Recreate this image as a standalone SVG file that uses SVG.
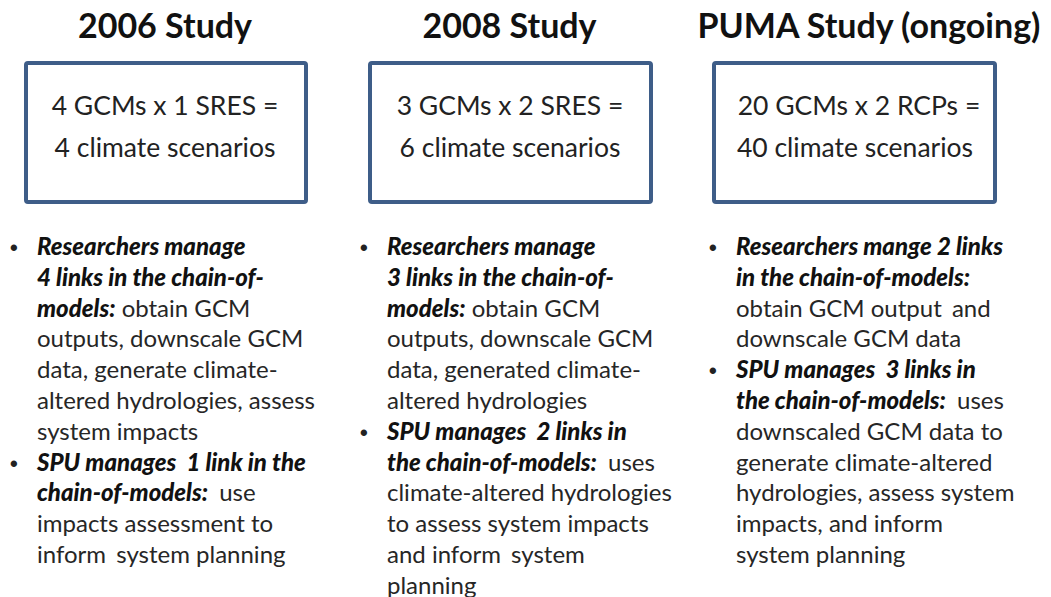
<svg xmlns="http://www.w3.org/2000/svg" width="1051" height="597" viewBox="0 0 1051 597">
  <style>
    .title { font-family: Lato, "Liberation Sans", sans-serif; font-weight: bold; font-size: 34px; fill: #111; text-anchor: middle; }
    .box { fill: #ffffff; stroke: #3e5d88; stroke-width: 4; }
    .boxtxt { font-family: Lato, "Liberation Sans", sans-serif; font-size: 26.5px; fill: #222; text-anchor: middle; }
    .body { font-family: Lato, "Liberation Sans", sans-serif; font-size: 24px; fill: #262626; }
    .bi { font-weight: 900; font-style: italic; fill: #111; }
    .dot { font-family: "Liberation Sans", sans-serif; font-size: 22px; font-weight: bold; fill: #222; }
  </style>
  <rect width="1051" height="597" fill="#ffffff"/>

  <!-- 2006 study -->
  <g id="study-2006">
    <text class="title" x="165" y="38">2006 Study</text>
    <rect class="box" x="26" y="63" width="280" height="139" rx="2"/>
    <text class="boxtxt" x="165" y="115">4 GCMs x 1 SRES =</text>
    <text class="boxtxt" x="165" y="157">4 climate scenarios</text>
    <g class="body">
      <text class="dot" x="10" y="255">•</text>
      <text x="37" y="255"><tspan class="bi">Researchers manage</tspan></text>
      <text x="37" y="285.8"><tspan class="bi">4 links in the chain-of-</tspan></text>
      <text x="37" y="316.6"><tspan class="bi">models:</tspan> obtain GCM</text>
      <text x="37" y="347.4">outputs, downscale GCM</text>
      <text x="37" y="378.2">data, generate climate-</text>
      <text x="37" y="409">altered hydrologies, assess</text>
      <text x="37" y="439.8">system impacts</text>
      <text class="dot" x="10" y="470.6">•</text>
      <text x="37" y="470.6"><tspan class="bi">SPU manages <tspan dx="5">1 link in the</tspan></tspan></text>
      <text x="37" y="501.4"><tspan class="bi">chain-of-models:</tspan> <tspan dx="5">use</tspan></text>
      <text x="37" y="532.2">impacts assessment to</text>
      <text x="37" y="563">inform <tspan dx="4">system planning</tspan></text>
    </g>
  </g>

  <!-- 2008 study -->
  <g id="study-2008">
    <text class="title" x="509.5" y="38">2008 Study</text>
    <rect class="box" x="370" y="63" width="281" height="139" rx="2"/>
    <text class="boxtxt" x="510" y="115">3 GCMs x 2 SRES =</text>
    <text class="boxtxt" x="510" y="157">6 climate scenarios</text>
    <g class="body">
      <text class="dot" x="360" y="255">•</text>
      <text x="387" y="255"><tspan class="bi">Researchers manage</tspan></text>
      <text x="387" y="285.8"><tspan class="bi">3 links in the chain-of-</tspan></text>
      <text x="387" y="316.6"><tspan class="bi">models:</tspan> obtain GCM</text>
      <text x="387" y="347.4">outputs, downscale GCM</text>
      <text x="387" y="378.2">data, generated climate-</text>
      <text x="387" y="409">altered hydrologies</text>
      <text class="dot" x="360" y="439.8">•</text>
      <text x="387" y="439.8"><tspan class="bi">SPU manages <tspan dx="5">2 links in</tspan></tspan></text>
      <text x="387" y="470.6"><tspan class="bi">the chain-of-models:</tspan> <tspan dx="5">uses</tspan></text>
      <text x="387" y="501.4">climate-altered hydrologies</text>
      <text x="387" y="532.2">to assess system impacts</text>
      <text x="387" y="563">and inform <tspan dx="4">system</tspan></text>
      <text x="387" y="593.8">planning</text>
    </g>
  </g>

  <!-- PUMA study -->
  <g id="study-puma">
    <text class="title" x="869" y="38">PUMA Study (ongoing)</text>
    <rect class="box" x="714" y="63" width="281" height="139" rx="2"/>
    <text class="boxtxt" x="859" y="115">20 GCMs x 2 RCPs =</text>
    <text class="boxtxt" x="855" y="157">40 climate scenarios</text>
    <g class="body">
      <text class="dot" x="709" y="255">•</text>
      <text x="736" y="255"><tspan class="bi">Researchers mange 2 links</tspan></text>
      <text x="736" y="285.8"><tspan class="bi">in the chain-of-models:</tspan></text>
      <text x="736" y="316.6">obtain GCM output <tspan dx="4">and</tspan></text>
      <text x="736" y="347.4">downscale GCM data</text>
      <text class="dot" x="709" y="378.2">•</text>
      <text x="736" y="378.2"><tspan class="bi">SPU manages <tspan dx="5">3 links in</tspan></tspan></text>
      <text x="736" y="409"><tspan class="bi">the chain-of-models:</tspan> <tspan dx="5">uses</tspan></text>
      <text x="736" y="439.8">downscaled GCM data to</text>
      <text x="736" y="470.6">generate climate-altered</text>
      <text x="736" y="501.4">hydrologies, assess system</text>
      <text x="736" y="532.2">impacts, and inform</text>
      <text x="736" y="563">system planning</text>
    </g>
  </g>
</svg>
